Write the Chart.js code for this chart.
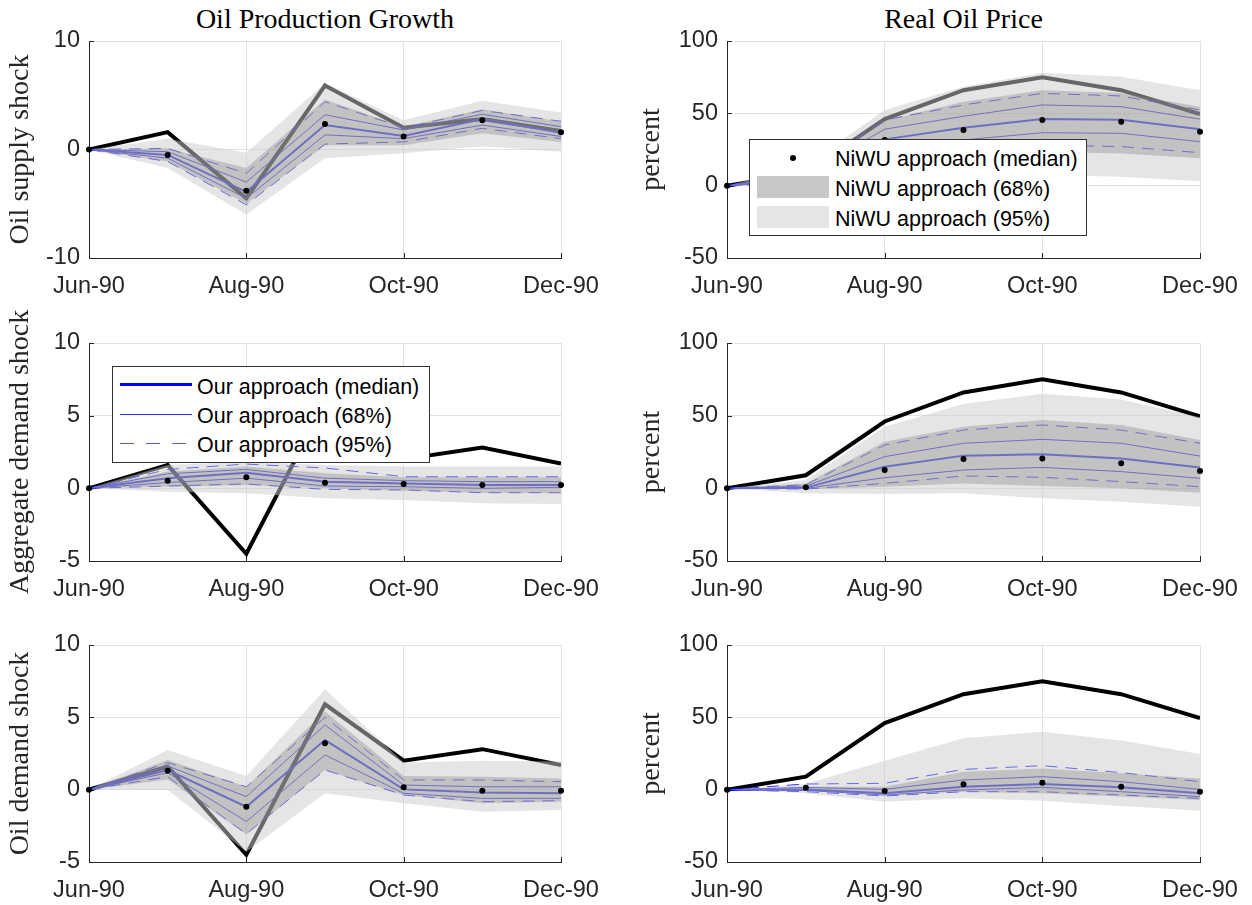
<!DOCTYPE html>
<html>
<head>
<meta charset="utf-8">
<script src="https://cdn.jsdelivr.net/npm/chart.js@4.4.1/dist/chart.umd.min.js"></script>
<style>
  html, body { margin: 0; padding: 0; background: #fff; }
  #stage { position: relative; width: 1252px; height: 905px; overflow: hidden; background: #fff; }
  #stage canvas { position: absolute; }
  .coltitle { position: absolute; font-family: 'Liberation Serif', 'Times New Roman', serif; font-size: 28px; line-height: 28px; color: #000; text-align: center; white-space: nowrap; }
  .legend { position: absolute; background: #fff; border: 1px solid #333; box-sizing: border-box; }
  .ltext { position: absolute; font-family: 'Liberation Sans', Arial, sans-serif; font-size: 21.5px; line-height: 30px; color: #000; white-space: nowrap; }
  .sw { position: absolute; }
</style>
</head>
<body>
<div id="stage">
  <div class="coltitle" style="left:89px; width:472px; top:5px;">Oil Production Growth</div>
  <div class="coltitle" style="left:727px; width:473px; top:5px;">Real Oil Price</div>
</div>
<script>
// Months on the horizontal axis
const months = ['Jun-90', 'Jul-90', 'Aug-90', 'Sep-90', 'Oct-90', 'Nov-90', 'Dec-90'];

// Observed series (thick black lines)
const oilProdGrowth = [0, 1.6, -4.5, 5.9, 2.0, 2.8, 1.7];
const realOilPrice  = [0, 9, 46, 66, 75, 66, 49.5];

// Oil supply shock -> oil production growth
const supProdOurMed  = [0, -0.5, -3.9, 2.25, 1.25, 2.8, 1.55];
const supProdOur68Lo = [0, -0.8, -4.5, 1.35, 1.0, 2.25, 1.2];
const supProdOur68Hi = [0, -0.2, -3.0, 3.2, 1.8, 3.25, 2.1];
const supProdOur95Lo = [0, -1.1, -5.1, 0.5, 0.7, 1.95, 1.0];
const supProdOur95Hi = [0, 0.1, -2.2, 4.4, 2.0, 3.6, 2.6];
const supProdNiwuMed = [0, -0.5, -3.8, 2.35, 1.2, 2.7, 1.6];
const supProdNiwu68Lo = [0, -1.1, -5.0, 0.4, 0.4, 1.5, 0.7];
const supProdNiwu68Hi = [0, 0.1, -1.7, 4.6, 2.1, 3.7, 2.55];
const supProdNiwu95Lo = [0, -1.7, -6.0, -0.8, -0.35, 0.3, -0.2];
const supProdNiwu95Hi = [0, 1.0, -0.3, 6.1, 2.7, 4.5, 3.4];

// Oil supply shock -> real oil price
const supPriceOurMed  = [0, 6, 32, 40, 46, 45.5, 39];
const supPriceOur68Lo = [0, 4, 26, 31.6, 36.6, 36.2, 30.4];
const supPriceOur68Hi = [0, 8, 39, 48, 55.8, 54.6, 46];
const supPriceOur95Lo = [0, 2, 20, 26.5, 28, 27, 22.8];
const supPriceOur95Hi = [0, 10, 45.4, 55.8, 63.8, 62, 52.3];
const supPriceNiwuMed = [0, 6, 31.5, 38.5, 45.4, 44.2, 37.3];
const supPriceNiwu68Lo = [0, 2, 20, 22.3, 23.5, 22.3, 18.9];
const supPriceNiwu68Hi = [0, 10, 45, 58, 66, 64, 54.6];
const supPriceNiwu95Lo = [0, -2, 13, 8.5, 7.4, 6.2, 3];
const supPriceNiwu95Hi = [0, 14, 52.3, 68.4, 78, 75.3, 66];

// Aggregate demand shock -> oil production growth
const adProdOurMed  = [0, 0.7, 1.08, 0.46, 0.34, 0.23, 0.23];
const adProdOur68Lo = [0, 0.4, 0.7, 0.16, 0.11, 0, 0.07];
const adProdOur68Hi = [0, 1.0, 1.3, 0.7, 0.53, 0.46, 0.46];
const adProdOur95Lo = [0, 0.16, 0.3, -0.07, -0.11, -0.3, -0.3];
const adProdOur95Hi = [0, 1.3, 1.67, 1.4, 0.8, 0.8, 0.8];
const adProdNiwuMed = [0, 0.53, 0.76, 0.39, 0.3, 0.23, 0.23];
const adProdNiwu68Lo = [0, 0.11, 0.23, 0, -0.16, -0.3, -0.34];
const adProdNiwu68Hi = [0, 1.15, 1.5, 1.03, 0.76, 0.76, 0.76];
const adProdNiwu95Lo = [0, -0.23, -0.34, -0.69, -0.8, -1.03, -1.08];
const adProdNiwu95Hi = [0, 1.6, 1.83, 1.6, 1.5, 1.5, 1.5];

// Aggregate demand shock -> real oil price
const adPriceOurMed  = [0, 0.5, 14.9, 22.5, 23.4, 20.6, 14.4];
const adPriceOur68Lo = [0, 0, 7.3, 12.6, 14.4, 11.5, 6.9];
const adPriceOur68Hi = [0, 1.5, 21.8, 31, 33.7, 31, 22.2];
const adPriceOur95Lo = [0, -0.5, 3.4, 8.5, 7.6, 4.6, 1.1];
const adPriceOur95Hi = [0, 2.5, 29.8, 40.1, 43.6, 40.1, 31];
const adPriceNiwuMed = [0, 0.7, 12.6, 20.2, 20.6, 17.2, 11.9];
const adPriceNiwu68Lo = [0, -0.7, 1.1, 3.4, 1.6, 0, -3];
const adPriceNiwu68Hi = [0, 3.4, 32, 42.4, 47, 43.6, 33.3];
const adPriceNiwu95Lo = [0, -3.4, -3.9, -3.4, -6.9, -9.2, -12.6];
const adPriceNiwu95Hi = [0, 5.7, 42.4, 58, 65, 61.2, 48.9];

// Oil-specific demand shock -> oil production growth
const odProdOurMed  = [0, 1.36, -1.18, 3.43, 0.02, -0.2, -0.25];
const odProdOur68Lo = [0, 1.17, -2.2, 2.4, -0.25, -0.6, -0.6];
const odProdOur68Hi = [0, 1.64, -0.48, 4.47, 0.32, 0.2, 0.2];
const odProdOur95Lo = [0, 0.9, -3.06, 1.36, -0.37, -0.83, -0.76];
const odProdOur95Hi = [0, 1.87, 0.2, 5.0, 0.67, 0.67, 0.55];
const odProdNiwuMed = [0, 1.31, -1.18, 3.2, 0.16, -0.07, -0.07];
const odProdNiwu68Lo = [0, 0.71, -3.1, 1.36, -0.37, -0.94, -0.83];
const odProdNiwu68Hi = [0, 2.05, 0.2, 5.4, 0.94, 0.9, 0.78];
const odProdNiwu95Lo = [0, 0, -4.3, -0.25, -0.94, -1.52, -1.4];
const odProdNiwu95Hi = [0, 2.74, 0.94, 6.94, 1.87, 2.0, 1.94];

// Oil-specific demand shock -> real oil price
const odPriceOurMed  = [0, 0.2, -2.5, 2.1, 3.9, 1.6, -2.5];
const odPriceOur68Lo = [0, -0.5, -3.7, -0.2, 1.6, -1.4, -4.8];
const odPriceOur68Hi = [0, 1.6, 0.2, 6.7, 9, 5.5, 0.2];
const odPriceOur95Lo = [0, -1.4, -4.4, -1.4, -1.4, -3.7, -6];
const odPriceOur95Hi = [0, 3.9, 4.4, 14, 16.6, 11.8, 5.5];
const odPriceNiwuMed = [0, 1.4, -0.9, 3.7, 4.8, 2.1, -1.4];
const odPriceNiwu68Lo = [0, -0.7, -3.7, -1.4, -2.5, -4.8, -7.1];
const odPriceNiwu68Hi = [0, 2.1, 2.1, 12.4, 14.7, 11.3, 7.8];
const odPriceNiwu95Lo = [0, -2.5, -8.3, -6, -7.6, -11.3, -14.5];
const odPriceNiwu95Hi = [0, 3.9, 20, 35.5, 40, 33.9, 24.7];

// Axis ranges and tick steps
const prodRangeTop = [-10, 10, 10];
const prodRange    = [-5, 10, 5];
const priceRange   = [-50, 100, 50];

// Row labels
const rowLabels = ['Oil supply shock', 'Aggregate demand shock', 'Oil demand shock'];
const priceLabel = 'percent';

// ---------------------------------------------------------------------------
const GRID = '#e2e2e2';
const AXIS = '#262626';
const BLUE = 'rgb(0,0,255)';
const BAND95 = 'rgba(204,204,204,0.5)';
const BAND68 = 'rgba(128,128,128,0.35)';
const SANS = "'Liberation Sans', Arial, Helvetica, sans-serif";
const SERIF = "'Liberation Serif', 'Times New Roman', serif";

const stage = document.getElementById('stage');
const pts = arr => arr.map((v, i) => ({ x: i, y: v }));

// short inward tick marks on the left and bottom axes
const innerTicks = {
  id: 'innerTicks',
  beforeDatasetsDraw(chart) {
    const { ctx, chartArea: a, scales: { x, y } } = chart;
    ctx.save();
    ctx.strokeStyle = AXIS;
    ctx.lineWidth = 1;
    ctx.beginPath();
    y.ticks.forEach(t => {
      const py = Math.round(y.getPixelForValue(t.value)) + 0.5;
      ctx.moveTo(a.left, py); ctx.lineTo(a.left + 5, py);
    });
    x.ticks.forEach(t => {
      const px = Math.round(x.getPixelForValue(t.value)) + 0.5;
      ctx.moveTo(px, a.bottom); ctx.lineTo(px, a.bottom - 5);
    });
    ctx.stroke();
    ctx.restore();
  }
};

function lineDs(values, width, order, dash, color) {
  return {
    data: pts(values), borderColor: color || BLUE, borderWidth: width,
    borderDash: dash || [], pointRadius: 0, pointHoverRadius: 0,
    fill: false, order: order, tension: 0
  };
}

function panel(cfg) {
  const canvas = document.createElement('canvas');
  canvas.width = cfg.w; canvas.height = cfg.h;
  canvas.style.left = cfg.x + 'px'; canvas.style.top = cfg.y + 'px';
  canvas.style.width = cfg.w + 'px'; canvas.style.height = cfg.h + 'px';
  stage.appendChild(canvas);

  const s = cfg.series;
  const datasets = [
    lineDs(cfg.observed, 4, 6, null, '#000'),
    lineDs(s.our95Hi, 1, 5, [12, 8]),
    lineDs(s.our95Lo, 1, 5, [12, 8]),
    lineDs(s.our68Hi, 1, 4),
    lineDs(s.our68Lo, 1, 4),
    lineDs(s.ourMed, 2, 3),
    { data: pts(s.niwu95Hi), fill: '+1', backgroundColor: BAND95, borderWidth: 0, borderColor: 'rgba(0,0,0,0)', pointRadius: 0, pointHoverRadius: 0, order: 2 },
    { data: pts(s.niwu95Lo), fill: false, borderWidth: 0, borderColor: 'rgba(0,0,0,0)', pointRadius: 0, pointHoverRadius: 0, order: 2 },
    { data: pts(s.niwu68Hi), fill: '+1', backgroundColor: BAND68, borderWidth: 0, borderColor: 'rgba(0,0,0,0)', pointRadius: 0, pointHoverRadius: 0, order: 1 },
    { data: pts(s.niwu68Lo), fill: false, borderWidth: 0, borderColor: 'rgba(0,0,0,0)', pointRadius: 0, pointHoverRadius: 0, order: 1 },
    { data: pts(s.niwuMed), showLine: false, pointRadius: 3, pointHoverRadius: 3, pointBorderWidth: 0,
      pointBackgroundColor: '#000', borderColor: '#000', order: 0, clip: 6 }
  ];

  const [ymin, ymax, ystep] = cfg.range;
  new Chart(canvas, {
    type: 'line',
    data: { datasets },
    plugins: [innerTicks],
    options: {
      responsive: false,
      animation: false,
      events: [],
      devicePixelRatio: 1,
      layout: { padding: { left: 0, top: 41, right: cfg.padRight, bottom: cfg.padBottom } },
      plugins: { legend: { display: false }, tooltip: { enabled: false }, title: { display: false } },
      scales: {
        x: {
          type: 'linear', min: 0, max: months.length - 1,
          afterFit(scale) { scale.height = 40; },
          ticks: {
            stepSize: 2, autoSkip: false, maxRotation: 0, padding: 14,
            callback: v => months[v],
            font: { family: SANS, size: 23.5 }, color: AXIS
          },
          grid: {
            color: c => (c.tick && c.tick.value === 0) ? 'rgba(0,0,0,0)' : GRID,
            drawTicks: false, lineWidth: 1
          },
          border: { display: true, color: AXIS, width: 1 }
        },
        y: {
          type: 'linear', min: ymin, max: ymax,
          afterFit(scale) { scale.width = cfg.yWidth; },
          ticks: {
            stepSize: ystep, padding: 9,
            font: { family: SANS, size: 23.5 }, color: AXIS
          },
          grid: {
            color: c => (c.tick && c.tick.value === ymin) ? 'rgba(0,0,0,0)' : GRID,
            drawTicks: false, lineWidth: 1
          },
          border: { display: true, color: AXIS, width: 1 },
          title: {
            display: true, text: cfg.label,
            font: { family: SERIF, size: 28 }, color: AXIS,
            padding: { top: cfg.titlePad, bottom: 0 }
          }
        }
      }
    }
  });
}

function bundle(ourMed, our68Lo, our68Hi, our95Lo, our95Hi, niwuMed, niwu68Lo, niwu68Hi, niwu95Lo, niwu95Hi) {
  return { ourMed, our68Lo, our68Hi, our95Lo, our95Hi, niwuMed, niwu68Lo, niwu68Hi, niwu95Lo, niwu95Hi };
}

const rows = [
  { y: 0,   h: 302, padBottom: 4 },
  { y: 302, h: 302, padBottom: 3 },
  { y: 604, h: 301, padBottom: 3 }
];

const leftSeries = [
  bundle(supProdOurMed, supProdOur68Lo, supProdOur68Hi, supProdOur95Lo, supProdOur95Hi, supProdNiwuMed, supProdNiwu68Lo, supProdNiwu68Hi, supProdNiwu95Lo, supProdNiwu95Hi),
  bundle(adProdOurMed, adProdOur68Lo, adProdOur68Hi, adProdOur95Lo, adProdOur95Hi, adProdNiwuMed, adProdNiwu68Lo, adProdNiwu68Hi, adProdNiwu95Lo, adProdNiwu95Hi),
  bundle(odProdOurMed, odProdOur68Lo, odProdOur68Hi, odProdOur95Lo, odProdOur95Hi, odProdNiwuMed, odProdNiwu68Lo, odProdNiwu68Hi, odProdNiwu95Lo, odProdNiwu95Hi)
];
const rightSeries = [
  bundle(supPriceOurMed, supPriceOur68Lo, supPriceOur68Hi, supPriceOur95Lo, supPriceOur95Hi, supPriceNiwuMed, supPriceNiwu68Lo, supPriceNiwu68Hi, supPriceNiwu95Lo, supPriceNiwu95Hi),
  bundle(adPriceOurMed, adPriceOur68Lo, adPriceOur68Hi, adPriceOur95Lo, adPriceOur95Hi, adPriceNiwuMed, adPriceNiwu68Lo, adPriceNiwu68Hi, adPriceNiwu95Lo, adPriceNiwu95Hi),
  bundle(odPriceOurMed, odPriceOur68Lo, odPriceOur68Hi, odPriceOur95Lo, odPriceOur95Hi, odPriceNiwuMed, odPriceNiwu68Lo, odPriceNiwu68Hi, odPriceNiwu95Lo, odPriceNiwu95Hi)
];

rows.forEach((r, i) => {
  panel({
    x: 0, y: r.y, w: 626, h: r.h, padRight: 65, padBottom: r.padBottom,
    yWidth: 89, titlePad: 4, label: rowLabels[i],
    range: i === 0 ? prodRangeTop : prodRange,
    observed: oilProdGrowth, series: leftSeries[i]
  });
  panel({
    x: 626, y: r.y, w: 626, h: r.h, padRight: 52, padBottom: r.padBottom,
    yWidth: 101, titlePad: 9, label: priceLabel,
    range: priceRange,
    observed: realOilPrice, series: rightSeries[i]
  });
});

// Legends
function addLegend(box, rowsSpec) {
  const lg = document.createElement('div');
  lg.className = 'legend';
  lg.style.left = box[0] + 'px'; lg.style.top = box[1] + 'px';
  lg.style.width = box[2] + 'px'; lg.style.height = box[3] + 'px';
  stage.appendChild(lg);
  rowsSpec.forEach(r => {
    const sw = document.createElement('div');
    sw.className = 'sw';
    Object.assign(sw.style, r.swatch);
    stage.appendChild(sw);
    const t = document.createElement('div');
    t.className = 'ltext';
    t.style.left = r.textX + 'px'; t.style.top = r.textY + 'px';
    t.textContent = r.text;
    stage.appendChild(t);
  });
}

addLegend([749, 139, 338, 97], [
  { text: 'NiWU approach (median)', textX: 835, textY: 144,
    swatch: { left: '790px', top: '155px', width: '6px', height: '6px', borderRadius: '3px', background: '#000' } },
  { text: 'NiWU approach (68%)', textX: 835, textY: 174,
    swatch: { left: '757px', top: '176px', width: '72px', height: '22px', background: '#c8c8c8' } },
  { text: 'NiWU approach (95%)', textX: 835, textY: 204,
    swatch: { left: '757px', top: '206px', width: '72px', height: '22px', background: '#e5e5e5' } }
]);

addLegend([112, 366, 318, 97], [
  { text: 'Our approach (median)', textX: 197, textY: 372,
    swatch: { left: '120px', top: '383px', width: '72px', height: '3px', background: '#0000ff' } },
  { text: 'Our approach (68%)', textX: 197, textY: 401,
    swatch: { left: '120px', top: '414px', width: '72px', height: '1px', background: '#2a2aff' } },
  { text: 'Our approach (95%)', textX: 197, textY: 430,
    swatch: { left: '120px', top: '443px', width: '72px', height: '1px',
      background: 'repeating-linear-gradient(to right, #5a5af2 0 14px, rgba(0,0,0,0) 14px 26px)' } }
]);
</script>
</body>
</html>
